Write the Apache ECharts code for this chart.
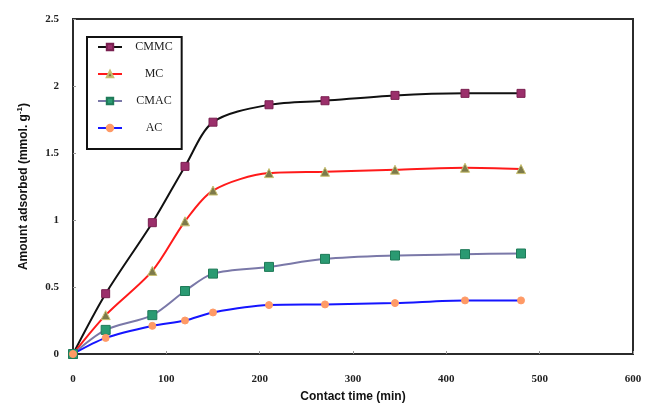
<!DOCTYPE html>
<html>
<head>
<meta charset="utf-8">
<script src="https://cdn.jsdelivr.net/npm/echarts@6/dist/echarts.min.js"></script>
<style>
  html, body { margin: 0; padding: 0; background: #fff; }
  #chart { width: 647px; height: 408px; }
</style>
</head>
<body>
<div id="chart"></div>
<script>
// contact time (min)
const times = [0, 35, 85, 120, 150, 210, 270, 345, 420, 480];
// amount adsorbed (mmol/g)
const cmmc = [0, 0.45, 0.98, 1.40, 1.73, 1.86, 1.89, 1.93, 1.945, 1.945];
const mc = [0, 0.29, 0.62, 0.99, 1.22, 1.35, 1.36, 1.375, 1.39, 1.38];
const cmac = [0, 0.18, 0.29, 0.47, 0.60, 0.65, 0.71, 0.735, 0.745, 0.75];
const ac = [0, 0.12, 0.21, 0.25, 0.31, 0.365, 0.37, 0.38, 0.40, 0.40];

const xTicks = [0, 100, 200, 300, 400, 500, 600];
const yTicks = [0, 0.5, 1, 1.5, 2, 2.5];

const pairs = (ys) => times.map((t, i) => [t, ys[i]]);

const makeSeries = (name, ys, lineColor, symbol, fill, border, size) => ({
  name: name,
  type: "line",
  data: pairs(ys),
  smooth: 0.3,
  symbol: symbol,
  symbolSize: size,
  showAllSymbol: true,
  lineStyle: { color: lineColor, width: 2 },
  itemStyle: { color: fill, borderColor: border, borderWidth: 1, opacity: 1 },
  z: 3,
});

const chart = echarts.init(document.getElementById("chart"));
const option = {
  backgroundColor: "#fff",
  animation: false,
  grid: {
    left: 73,
    right: 14,
    top: 19,
    bottom: 51,
    show: true,
    borderColor: "#2b2b2b",
    borderWidth: 2,
  },
  legend: {
    orient: "vertical",
    left: 87,
    top: 37,
    padding: [4, 9, 15, 10],
    itemWidth: 24,
    itemHeight: 8,
    itemGap: 15,
    borderColor: "#111",
    borderWidth: 2,
    backgroundColor: "#fff",
    formatter: (name) => "{c|" + name + "}",
    textStyle: {
      rich: {
        c: {
          fontFamily: "Liberation Serif",
          fontSize: 12,
          color: "#222",
          width: 54,
          align: "center",
        },
      },
    },
    data: ["CMMC", "MC", "CMAC", "AC"],
  },
  xAxis: {
    type: "value",
    min: 0,
    max: 600,
    interval: 100,
    name: "Contact time (min)",
    nameLocation: "middle",
    nameGap: 37,
    nameTextStyle: {
      fontFamily: "Liberation Sans",
      fontWeight: "bold",
      fontSize: 12,
      color: "#111",
    },
    axisLine: { lineStyle: { color: "#2b2b2b", width: 2 } },
    axisTick: { show: true, inside: true, length: 3, lineStyle: { color: "#999" } },
    splitLine: { show: false },
    axisLabel: {
      margin: 20,
      fontFamily: "Liberation Serif",
      fontWeight: "bold",
      fontSize: 11,
      color: "#222",
      formatter: (v) => (xTicks.includes(v) ? String(v) : ""),
    },
  },
  yAxis: {
    type: "value",
    min: 0,
    max: 2.5,
    interval: 0.5,
    name: "{n|Amount adsorbed (mmol. g}{s|-1}{n|)}",
    nameLocation: "middle",
    nameGap: 41,
    nameRotate: 90,
    nameTextStyle: {
      rich: {
        n: {
          fontFamily: "Liberation Sans",
          fontWeight: "bold",
          fontSize: 12,
          color: "#111",
        },
        s: {
          fontFamily: "Liberation Sans",
          fontWeight: "bold",
          fontSize: 8,
          color: "#111",
          verticalAlign: "top",
          padding: [0, 0, 8, 0],
        },
      },
    },
    axisLine: { show: true, lineStyle: { color: "#2b2b2b", width: 2 } },
    axisTick: { show: true, inside: true, length: 3, lineStyle: { color: "#999" } },
    splitLine: { show: false },
    axisLabel: {
      margin: 14,
      fontFamily: "Liberation Serif",
      fontWeight: "bold",
      fontSize: 11,
      color: "#222",
      formatter: (v) => (yTicks.includes(v) ? String(v) : ""),
    },
  },
  series: [
    makeSeries("CMMC", cmmc, "#111111", "rect", "#9b2f6b", "#7a2050", 8),
    makeSeries("MC", mc, "#ff1a1a", "triangle", "#7d7a4a", "#c8c070", 9),
    makeSeries("CMAC", cmac, "#7a78a8", "rect", "#2a9a72", "#1f7a58", 9),
    makeSeries("AC", ac, "#1515ff", "circle", "#ff9a66", "#ff9a66", 7),
  ],
};
chart.setOption(option);
</script>
</body>
</html>
